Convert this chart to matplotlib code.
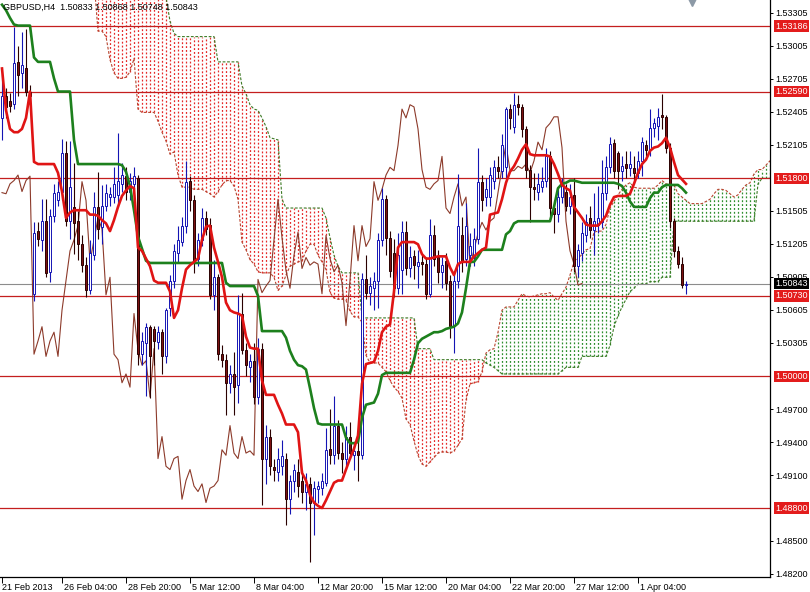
import matplotlib
matplotlib.use('Agg')
import matplotlib.pyplot as plt
from matplotlib.transforms import ScaledTranslation, blended_transform_factory
import numpy as np

plt.rcParams['font.family'] = ['Liberation Sans', 'DejaVu Sans']

title_text = "GBPUSD,H4  1.50833 1.50868 1.50748 1.50843"

opens = [
 1.5235, 1.5255, 1.5250, 1.5248, 1.5286, 1.5276, 1.5280, 1.5259, 1.5075, 1.5132,
 1.5124, 1.5141, 1.5095, 1.5146, 1.5160, 1.5168, 1.5203, 1.5141, 1.5154, 1.5141,
 1.5120, 1.5101, 1.5078, 1.5110, 1.5154, 1.5136, 1.5155, 1.5163, 1.5163, 1.5165,
 1.5175, 1.5182, 1.5168, 1.5175, 1.5180, 1.5020, 1.5030, 1.5045, 1.5043, 1.5031,
 1.5040, 1.5018, 1.5062, 1.5087, 1.5112, 1.5122, 1.5137, 1.5178, 1.5160, 1.5107,
 1.5124, 1.5144, 1.5138, 1.5074, 1.5090, 1.5020, 1.5015, 1.4994, 1.5002, 1.4992,
 1.5057, 1.5024, 1.5008, 1.5014, 1.4981, 1.5025, 1.4925, 1.4945, 1.4917, 1.4913,
 1.4918, 1.4925, 1.4888, 1.4905, 1.4913, 1.4905, 1.4895, 1.4902, 1.4885, 1.4897,
 1.4898, 1.4903, 1.4934, 1.4928, 1.4955, 1.4930, 1.4925, 1.4945, 1.4928, 1.4932,
 1.4928, 1.5088, 1.5076, 1.5080, 1.5087, 1.5124, 1.5161, 1.5126, 1.5112, 1.5080,
 1.5097, 1.5131, 1.5098, 1.5109, 1.5100, 1.5104, 1.5102, 1.5075, 1.5128, 1.5108,
 1.5095, 1.5105, 1.5087, 1.5046, 1.5087, 1.5128, 1.5107, 1.5110, 1.5108, 1.5125,
 1.5177, 1.5163, 1.5163, 1.5178, 1.5190, 1.5187, 1.5190, 1.5243, 1.5227, 1.5248,
 1.5245, 1.5225, 1.5188, 1.5172, 1.5168, 1.5172, 1.5178, 1.5200, 1.5153, 1.5148,
 1.5163, 1.5168, 1.5155, 1.5165, 1.5100, 1.5112, 1.5128, 1.5144, 1.5133, 1.5138,
 1.5140, 1.5167, 1.5190, 1.5212, 1.5203, 1.5187, 1.5193, 1.5189, 1.5189, 1.5185,
 1.5196, 1.5210, 1.5206, 1.5226, 1.5228, 1.5238, 1.5236, 1.5208, 1.5141, 1.5114,
 1.5102, 1.50833]

highs = [
 1.5275, 1.5262, 1.5258, 1.5318, 1.5300, 1.5313, 1.5316, 1.5265, 1.5140, 1.5140,
 1.5161, 1.5161, 1.5152, 1.5175, 1.5178, 1.5216, 1.5214, 1.5214, 1.5194, 1.5150,
 1.5128, 1.5108, 1.5124, 1.5168, 1.5186, 1.5174, 1.5175, 1.5172, 1.5190, 1.5221,
 1.5194, 1.5190, 1.5185, 1.5190, 1.5183, 1.5040, 1.5048, 1.5047, 1.5046, 1.5046,
 1.5043, 1.5062, 1.5092, 1.5120, 1.5137, 1.5145, 1.5196, 1.5182, 1.5165, 1.5130,
 1.5153, 1.5150, 1.5144, 1.5106, 1.5093, 1.5028, 1.5020, 1.5010, 1.5022, 1.5074,
 1.5076, 1.5030, 1.5020, 1.5030, 1.5035, 1.5030, 1.4956, 1.4952, 1.4925, 1.4935,
 1.4942, 1.4930, 1.4910, 1.4920, 1.4925, 1.4915, 1.4912, 1.4908, 1.4905, 1.4905,
 1.4912, 1.4953, 1.4970, 1.4982, 1.4960, 1.4940, 1.4955, 1.4958, 1.4940, 1.4945,
 1.5094, 1.5110, 1.5090, 1.5095, 1.5130, 1.5171, 1.5165, 1.5132, 1.5125, 1.5130,
 1.5141, 1.5141, 1.5118, 1.5115, 1.5115, 1.5110, 1.5108, 1.5143, 1.5138, 1.5115,
 1.5108, 1.5112, 1.5092, 1.5093, 1.5184, 1.5145, 1.5158, 1.5130, 1.5135, 1.5208,
 1.5183, 1.5180, 1.5190, 1.5197, 1.5200, 1.5220, 1.5245, 1.5248, 1.5258, 1.5256,
 1.5248, 1.5228, 1.5192, 1.5185, 1.5185, 1.5190, 1.5208, 1.5205, 1.5160, 1.5170,
 1.5180, 1.5175, 1.5175, 1.5180, 1.5120, 1.5140, 1.5148, 1.5155, 1.5167, 1.5173,
 1.5197, 1.5200, 1.5218, 1.5216, 1.5205, 1.5200, 1.5205, 1.5205, 1.5200, 1.5205,
 1.5218, 1.5215, 1.5243, 1.5235, 1.5244, 1.5257, 1.5238, 1.5212, 1.5144, 1.5118,
 1.5108, 1.50868]

lows = [
 1.5215, 1.5235, 1.5240, 1.5243, 1.5255, 1.5262, 1.5255, 1.5250, 1.5068, 1.5118,
 1.5114, 1.5090, 1.5086, 1.5140, 1.5155, 1.5160, 1.5137, 1.5125, 1.5111, 1.5106,
 1.5095, 1.5072, 1.5075, 1.5106, 1.5125, 1.5120, 1.5150, 1.5155, 1.5158, 1.5154,
 1.5168, 1.5160, 1.5160, 1.5170, 1.5010, 1.5010, 1.4982, 1.4980, 1.5010, 1.5025,
 1.5002, 1.5012, 1.5055, 1.5080, 1.5104, 1.5118, 1.5130, 1.5150, 1.5094, 1.5100,
 1.5118, 1.5128, 1.5070, 1.5060, 1.5015, 1.5008, 1.4965, 1.4985, 1.4965, 1.4976,
 1.5020, 1.5000, 1.4995, 1.4975, 1.4975, 1.4883, 1.4902, 1.4910, 1.4905, 1.4905,
 1.4910, 1.4865, 1.4875, 1.4895, 1.4890, 1.4885, 1.4878, 1.4831, 1.4855, 1.4885,
 1.4892, 1.4900, 1.4920, 1.4920, 1.4925, 1.4912, 1.4918, 1.4925, 1.4915, 1.4905,
 1.4925, 1.5070, 1.5065, 1.5060, 1.5062, 1.5118, 1.5110, 1.5090, 1.5072, 1.5075,
 1.5075, 1.5092, 1.5090, 1.5088, 1.5080, 1.5092, 1.5070, 1.5072, 1.5100, 1.5085,
 1.5080, 1.5078, 1.5035, 1.5021, 1.5080, 1.5095, 1.5100, 1.5100, 1.5100, 1.5120,
 1.5150, 1.5155, 1.5155, 1.5170, 1.5180, 1.5180, 1.5180, 1.5225, 1.5221, 1.5238,
 1.5218, 1.5180, 1.5140, 1.5160, 1.5160, 1.5168, 1.5172, 1.5143, 1.5130, 1.5140,
 1.5158, 1.5150, 1.5148, 1.5095, 1.5090, 1.5105, 1.5122, 1.5126, 1.5110, 1.5130,
 1.5135, 1.5160, 1.5185, 1.5180, 1.5170, 1.5178, 1.5180, 1.5182, 1.5178, 1.5180,
 1.5182, 1.5200, 1.5200, 1.5218, 1.5215, 1.5225, 1.5203, 1.5135, 1.5108, 1.5098,
 1.5080, 1.50748]

closes = [
 1.5255, 1.5245, 1.5246, 1.5285, 1.5274, 1.5283, 1.5259, 1.5255, 1.5130, 1.5125,
 1.5141, 1.5094, 1.5146, 1.5167, 1.5168, 1.5203, 1.5141, 1.5172, 1.5139, 1.5120,
 1.5101, 1.5078, 1.5112, 1.5154, 1.5134, 1.5155, 1.5167, 1.5166, 1.5175, 1.5178,
 1.5183, 1.5168, 1.5178, 1.5182, 1.5020, 1.5032, 1.5045, 1.5018, 1.5032, 1.5040,
 1.5018, 1.5060, 1.5087, 1.5114, 1.5124, 1.5137, 1.5177, 1.5160, 1.5104, 1.5124,
 1.5144, 1.5134, 1.5074, 1.5090, 1.5020, 1.5015, 1.4994, 1.5002, 1.4990, 1.5057,
 1.5024, 1.5010, 1.5014, 1.4981, 1.5025, 1.4925, 1.4945, 1.4918, 1.4915, 1.4925,
 1.4927, 1.4888, 1.4905, 1.4915, 1.4900, 1.4895, 1.4902, 1.4885, 1.4898, 1.4900,
 1.4905, 1.4933, 1.4928, 1.4955, 1.4930, 1.4925, 1.4945, 1.4930, 1.4932, 1.4928,
 1.5088, 1.5076, 1.5082, 1.5087, 1.5124, 1.5161, 1.5126, 1.5096, 1.5080, 1.5110,
 1.5131, 1.5098, 1.5108, 1.5101, 1.5104, 1.5102, 1.5075, 1.5128, 1.5107, 1.5095,
 1.5101, 1.5085, 1.5046, 1.5087, 1.5137, 1.5105, 1.5137, 1.5118, 1.5125, 1.5177,
 1.5160, 1.5170, 1.5183, 1.5190, 1.5187, 1.5210, 1.5243, 1.5235, 1.5247, 1.5245,
 1.5225, 1.5188, 1.5172, 1.5170, 1.5175, 1.5178, 1.5200, 1.5153, 1.5148, 1.5163,
 1.5175, 1.5155, 1.5163, 1.5100, 1.5115, 1.5130, 1.5140, 1.5133, 1.5141, 1.5144,
 1.5167, 1.5190, 1.5211, 1.5187, 1.5187, 1.5191, 1.5189, 1.5193, 1.5185, 1.5196,
 1.5213, 1.5206, 1.5226, 1.5230, 1.5236, 1.5236, 1.5208, 1.5141, 1.5114, 1.5102,
 1.5083, 1.50843]

tenkan = [
 1.5280, 1.5242, 1.5225, 1.5222, 1.5222, 1.5225, 1.5235, 1.5259, 1.5195, 1.5193,
 1.5193, 1.5193, 1.5193, 1.5193, 1.5185, 1.5168, 1.5144, 1.5149, 1.5151, 1.5151,
 1.5151, 1.5151, 1.5147, 1.5147, 1.5146, 1.5142, 1.5139, 1.5132, 1.5142, 1.5154,
 1.5164, 1.5169, 1.5173, 1.5171, 1.5117, 1.5114, 1.5107, 1.5100, 1.5087, 1.5085,
 1.5085, 1.5085, 1.5077, 1.5053, 1.5060, 1.5080, 1.5097, 1.5101, 1.5104, 1.5107,
 1.5124, 1.5136, 1.5137, 1.5117, 1.5104, 1.5090, 1.5067, 1.5060, 1.5058, 1.5057,
 1.5055, 1.5036, 1.5026, 1.5025, 1.5025, 1.4996, 1.4983, 1.4983, 1.4983, 1.4974,
 1.4966, 1.4956, 1.4956, 1.4956, 1.4949, 1.4912, 1.4905, 1.4892, 1.4885, 1.4882,
 1.4880, 1.4887, 1.4895, 1.4903, 1.4905, 1.4905, 1.4915, 1.4925, 1.4934, 1.4946,
 1.4993, 1.5011, 1.5012, 1.5013, 1.5023, 1.5040, 1.5045, 1.5047, 1.5077, 1.5117,
 1.5122, 1.5122, 1.5122, 1.5122, 1.5120, 1.5111, 1.5107, 1.5107, 1.5108, 1.5109,
 1.5109, 1.5109, 1.5099, 1.5092, 1.5102, 1.5104, 1.5104, 1.5104, 1.5109, 1.5112,
 1.5115, 1.5117, 1.5147, 1.5148, 1.5149, 1.5161, 1.5176, 1.5186, 1.5191, 1.5198,
 1.5206, 1.5211, 1.5202, 1.5201, 1.5201, 1.5201, 1.5201, 1.5200, 1.5193, 1.5184,
 1.5174, 1.5171, 1.5169, 1.5154, 1.5149, 1.5144, 1.5138, 1.5137, 1.5137, 1.5137,
 1.5141, 1.5146, 1.5156, 1.5163, 1.5164, 1.5164, 1.5164, 1.5166, 1.5175, 1.5185,
 1.5193, 1.5197, 1.5205, 1.5208, 1.5209, 1.5212, 1.5217, 1.5208, 1.5195, 1.5183,
 1.5179, 1.5175]

kijun = [
 1.5338, 1.5333, 1.5326, 1.5320, 1.5319, 1.5319, 1.5319, 1.5319, 1.5290, 1.5286,
 1.5286, 1.5286, 1.5286, 1.5271, 1.5259, 1.5259, 1.5259, 1.5259, 1.5215, 1.5193,
 1.5193, 1.5193, 1.5193, 1.5193, 1.5193, 1.5193, 1.5193, 1.5193, 1.5193, 1.5193,
 1.5192, 1.5186, 1.5173, 1.5151, 1.5127, 1.5116, 1.5105, 1.5103, 1.5103, 1.5103,
 1.5103, 1.5103, 1.5103, 1.5103, 1.5103, 1.5103, 1.5103, 1.5103, 1.5103, 1.5103,
 1.5103, 1.5103, 1.5103, 1.5103, 1.5103, 1.5103, 1.5085, 1.5082, 1.5082, 1.5082,
 1.5082, 1.5082, 1.5082, 1.5082, 1.5073, 1.5041, 1.5041, 1.5041, 1.5041, 1.5041,
 1.5041, 1.5035, 1.5023, 1.5015, 1.5010, 1.5009, 1.5006, 1.4989, 1.4971, 1.4957,
 1.4956, 1.4956, 1.4956, 1.4956, 1.4956, 1.4956, 1.4944, 1.4939, 1.4939, 1.4940,
 1.4962, 1.4974, 1.4975, 1.4976, 1.4984, 1.5001, 1.5003, 1.5003, 1.5003, 1.5003,
 1.5003, 1.5003, 1.5003, 1.5015, 1.5030, 1.5034, 1.5036, 1.5038, 1.5040, 1.5040,
 1.5041, 1.5043, 1.5044, 1.5045, 1.5048, 1.5058, 1.5080, 1.5104, 1.5104, 1.5109,
 1.5115, 1.5115, 1.5115, 1.5115, 1.5115, 1.5115, 1.5129, 1.5132, 1.5139, 1.5141,
 1.5141, 1.5141, 1.5141, 1.5141, 1.5141, 1.5141, 1.5141, 1.5141, 1.5154, 1.5171,
 1.5175, 1.5176, 1.5178, 1.5178, 1.5177, 1.5176, 1.5176, 1.5176, 1.5176, 1.5176,
 1.5176, 1.5176, 1.5176, 1.5176, 1.5175, 1.5173, 1.5167, 1.5159, 1.5154, 1.5154,
 1.5154, 1.5154, 1.5162, 1.5167, 1.5167, 1.5172, 1.5174, 1.5174, 1.5174, 1.5174,
 1.5171, 1.5167]

span_start = 23
span_a = [
 1.5360, 1.5314, 1.5314,
 1.5309, 1.5288, 1.5276, 1.5271, 1.5271, 1.5272, 1.5277, 1.5289, 1.5243, 1.5240,
 1.5240, 1.5240, 1.5240, 1.5232, 1.5222, 1.5214, 1.5202, 1.5204, 1.5183, 1.5172,
 1.5172, 1.5172, 1.5170, 1.5170, 1.5170, 1.5168, 1.5166, 1.5163, 1.5168, 1.5174,
 1.5178, 1.5178, 1.5173, 1.5161, 1.5122, 1.5115, 1.5106, 1.5102, 1.5095, 1.5094,
 1.5094, 1.5094, 1.5090, 1.5078, 1.5082, 1.5092, 1.5100, 1.5102, 1.5104, 1.5105,
 1.5114, 1.5120, 1.5120, 1.5110, 1.5104, 1.5097, 1.5076, 1.5071, 1.5070, 1.5070,
 1.5069, 1.5059, 1.5054, 1.5054, 1.5049, 1.5019, 1.5012, 1.5012, 1.5012, 1.5008,
 1.5004, 1.4996, 1.4990, 1.4986, 1.4980, 1.4961, 1.4956, 1.4941, 1.4928, 1.4920,
 1.4918, 1.4922, 1.4926, 1.4930, 1.4931, 1.4931, 1.4930, 1.4932, 1.4937, 1.4943,
 1.4978, 1.4993, 1.4994, 1.4995, 1.5004, 1.5021, 1.5024, 1.5025, 1.5040, 1.5060,
 1.5063, 1.5063, 1.5063, 1.5069, 1.5075, 1.5073, 1.5072, 1.5073, 1.5074, 1.5075,
 1.5075, 1.5076, 1.5072, 1.5069, 1.5075, 1.5081, 1.5092, 1.5104, 1.5107, 1.5111,
 1.5115, 1.5116, 1.5131, 1.5132, 1.5132, 1.5138, 1.5153, 1.5159, 1.5165, 1.5170,
 1.5174, 1.5176, 1.5172, 1.5171, 1.5171, 1.5171, 1.5171, 1.5171, 1.5174, 1.5178,
 1.5175, 1.5174, 1.5174, 1.5166, 1.5163, 1.5160, 1.5157, 1.5157, 1.5157, 1.5157,
 1.5159, 1.5161, 1.5166, 1.5170, 1.5170, 1.5169, 1.5166, 1.5163, 1.5165, 1.5170,
 1.5174, 1.5176, 1.5184, 1.5188, 1.5188, 1.5192, 1.5196, 1.5191, 1.5185, 1.5179,
 1.5175, 1.5171]

span_b = (
 [1.5400] * 18 + [1.5345, 1.5323, 1.5312] + [1.5309] * 10 + [1.5286] * 6 +
 [1.5264, 1.5257, 1.5247, 1.5243, 1.5242, 1.5235, 1.5227, 1.5217, 1.5216, 1.5215] +
 [1.5161] + [1.5153] * 10 + [1.5144, 1.5126, 1.5110, 1.5100] + [1.5094] * 5 +
 [1.5053] * 14 + [1.5025] * 4 + [1.5015] * 13 + [1.5012, 1.5010, 1.5008, 1.5005] +
 [1.5002] * 15 + [1.5005] + [1.5008] * 4 + [1.5018] * 7 +
 [1.5028, 1.5045, 1.5055, 1.5063, 1.5070, 1.5077, 1.5080] + [1.5084] * 3 +
 [1.5086] * 3 + [1.5090] * 3 + [1.5141] * 21 + [1.5175] + [1.5180] * 8)

chikou_shift = 26

date_ticks = [0, 15, 31, 47, 63, 79, 95, 111, 127, 143, 159]
date_labels = ['21 Feb 2013', '26 Feb 04:00', '28 Feb 20:00', '5 Mar 12:00',
               '8 Mar 04:00', '12 Mar 20:00', '15 Mar 12:00', '20 Mar 04:00',
               '22 Mar 20:00', '27 Mar 12:00', '1 Apr 04:00']

price_ticks = [1.53305, 1.53005, 1.52705, 1.52405, 1.52105, 1.51505, 1.51205,
               1.50905, 1.50605, 1.50305, 1.49700, 1.49400, 1.49100, 1.48500, 1.48200]
levels = [1.53186, 1.52590, 1.51800, 1.50730, 1.50000, 1.48800]
last_price = 1.50843

print(len(opens), len(highs), len(lows), len(closes), len(tenkan), len(kijun), len(span_a), len(span_b))

# ---------------------------------------------------------------- figure
fig = plt.figure(figsize=(8.10, 5.92), dpi=100)
ax = fig.add_axes([0, 15 / 592, 770 / 810, 577 / 592])
ax.set_xlim(-0.5, 192)
ax.set_ylim(1.481723, 1.53423)

n = len(closes)
idx = np.arange(n)
O = np.array(opens); H = np.array(highs); L = np.array(lows); C = np.array(closes)

# cloud
sidx = np.arange(span_start, span_start + len(span_a))
A = np.array(span_a); B = np.array(span_b)
bull = A >= B
ax.vlines(sidx[bull], B[bull], A[bull], colors='#2f8f2f', linewidth=0.9,
          linestyles=(0, (1.5, 1.6)), zorder=1)
ax.vlines(sidx[~bull], A[~bull], B[~bull], colors='#e52a2a', linewidth=0.9,
          linestyles=(0, (1.5, 1.6)), zorder=1)
ax.plot(sidx, A, color='#b8452f', lw=0.8, ls=(0, (2.5, 1.5)), zorder=1.2)
ax.plot(sidx, B, color='#3d7a25', lw=0.8, ls=(0, (2.5, 1.5)), zorder=1.2)

# levels
for lv in levels:
    ax.axhline(lv, color='#c41e1e', lw=0.9, zorder=1.5)
ax.axhline(last_price, color='#8c8c8c', lw=0.8, zorder=1.5)

# chikou span
ax.plot(idx[:n - chikou_shift], C[chikou_shift:], color='#8c3a2a', lw=0.8, zorder=2)

# candles
up = C >= O
ax.vlines(idx[up], L[up], H[up], color='#1414b4', lw=0.8, zorder=3)
ax.vlines(idx[~up], L[~up], H[~up], color='#2a0000', lw=0.8, zorder=3)
bottom = np.minimum(O, C)
height = np.maximum(np.abs(C - O), 0.00003)
ax.bar(idx[up], height[up], bottom=bottom[up], width=0.62, facecolor='white',
       edgecolor='#1414b4', linewidth=0.7, zorder=3.2)
ax.bar(idx[~up], height[~up], bottom=bottom[~up], width=0.62, facecolor='#7d1212',
       edgecolor='#2a0000', linewidth=0.7, zorder=3.2)

# tenkan / kijun
ax.plot(idx, kijun, color='#1d801d', lw=1.9, zorder=4)
ax.plot(idx, tenkan, color='#e01414', lw=1.9, zorder=4.1)

# axes styling
for s in ['left', 'top']:
    ax.spines[s].set_visible(False)
for s in ['right', 'bottom']:
    ax.spines[s].set_color('black')
    ax.spines[s].set_linewidth(0.9)

ax.yaxis.tick_right()
ax.set_yticks(price_ticks)
ax.set_yticklabels([f'{v:.5f}' for v in price_ticks])
ax.tick_params(axis='y', length=2.5, width=0.7, pad=1.5, labelsize=6.5, colors='black')

ax.set_xticks(date_ticks)
ax.set_xticklabels(date_labels)
ax.tick_params(axis='x', length=4, width=0.7, pad=0.5, labelsize=6.5, colors='black')
for k, lab in enumerate(ax.get_xticklabels()):
    lab.set_horizontalalignment('left')
    dx = 0.0 if k == 0 else 0.025
    lab.set_transform(lab.get_transform() + ScaledTranslation(dx, 0, fig.dpi_scale_trans))

trans = blended_transform_factory(ax.transAxes, ax.transData)
for lv in levels:
    ax.annotate(f'{lv:.5f}', xy=(1, lv), xycoords=trans, xytext=(5, 0),
                textcoords='offset pixels', ha='left', va='center', fontsize=6.5,
                color='white', annotation_clip=False, zorder=10,
                bbox=dict(boxstyle='square,pad=0.12', fc='#e31c1c', ec='none'))
ax.annotate(f'{last_price:.5f}', xy=(1, last_price), xycoords=trans, xytext=(5, 0),
            textcoords='offset pixels', ha='left', va='center', fontsize=6.5,
            color='white', annotation_clip=False, zorder=10,
            bbox=dict(boxstyle='square,pad=0.12', fc='black', ec='none'))

fig.text(3 / 810, 1 - 7 / 592, title_text, ha='left', va='center', fontsize=6.5,
         color='black')

ax.plot([172.5], [1.53405], marker='v', ms=6, color='#8c99a6', clip_on=False, zorder=11)

fig.savefig('out.png', dpi=100)
